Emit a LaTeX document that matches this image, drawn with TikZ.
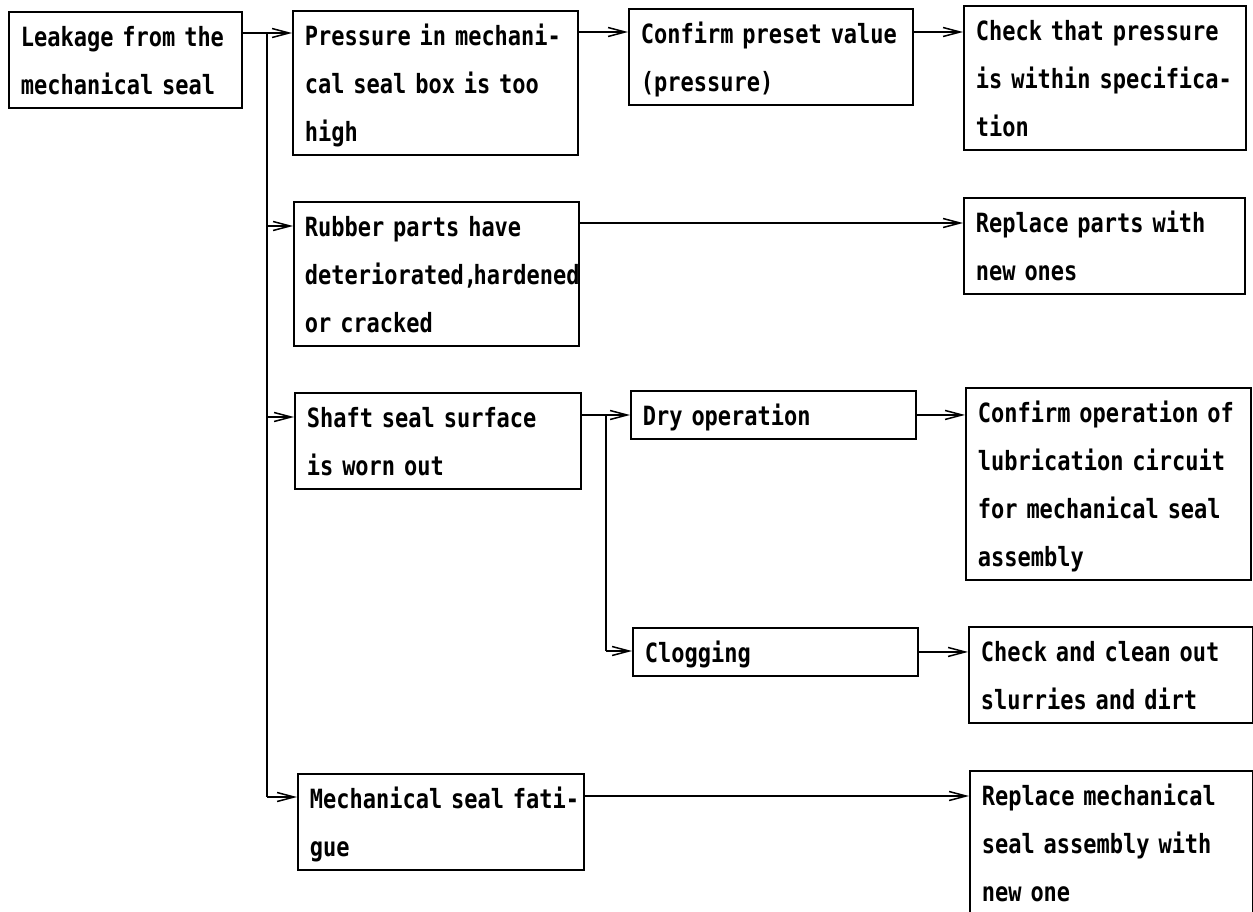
\documentclass[tikz,border=0pt]{standalone}
\usepackage{fontspec}
\usetikzlibrary{arrows.meta}
\newfontfamily\boxfont[FakeStretch=0.83]{DejaVu Sans Mono}
\newcommand\Lt[1]{\rule[-13pt]{0pt}{48pt}\mbox{#1}}
\tikzset{
  box/.style={draw, line width=1.9pt, rectangle, anchor=north west,
    inner xsep=12pt, inner ysep=0pt, align=left, text width=#1,
    font=\boxfont\bfseries\fontsize{26.5}{48}\selectfont},
  box/.default=261pt,
  arr/.style={line width=1.7pt, -{Straight Barb[length=17pt,width=9pt,line width=1.5pt]}},
  ln/.style={line width=1.7pt}
}
\begin{document}
\begin{tikzpicture}[x=1pt,y=-1pt]
\fill[white] (0,0) rectangle (1253,911);
\useasboundingbox (0,0) rectangle (1253,911);

\node[box=209pt] (leak) at (8,11) {\Lt{Leakage from the}\\\Lt{mechanical seal}};
\node[box] (press) at (292,10) {\Lt{Pressure in mechani-}\\\Lt{cal seal box is too}\\\Lt{high}};
\node[box=260pt] (conf) at (628,8) {\Lt{Confirm preset value}\\\Lt{(pressure)}};
\node[box=258pt] (check) at (963,5) {\Lt{Check that pressure}\\\Lt{is within specifica-}\\\Lt{tion}};
\node[box=263pt, inner xsep=11pt] (rub) at (293,201) {\Lt{Rubber parts have}\\\Lt{deteriorated,\kern-3.5pt hardened}\\\Lt{or cracked}};
\node[box=257pt] (repl) at (963,197) {\Lt{Replace parts with}\\\Lt{new ones}};
\node[box=262pt] (shaft) at (294,392) {\Lt{Shaft seal surface}\\\Lt{is worn out}};
\node[box] (dry) at (630,390) {\Lt{Dry operation}};
\node[box] (confop) at (965,387) {\Lt{Confirm operation of}\\\Lt{lubrication circuit}\\\Lt{for mechanical seal}\\\Lt{assembly}};
\node[box] (clog) at (632,627) {\Lt{Clogging}};
\node[box=260pt] (clean) at (968,626) {\Lt{Check and clean out}\\\Lt{slurries and dirt}};
\node[box=262pt] (fat) at (297,773) {\Lt{Mechanical seal fati-}\\\Lt{gue}};
\node[box=259pt] (replm) at (969,770) {\Lt{Replace mechanical}\\\Lt{seal assembly with}\\\Lt{new one}};

% row 1
\coordinate (a1) at ([yshift=-22pt]leak.north east);
\draw[arr] (a1) -- (a1 -| press.west);
\coordinate (a2) at ([yshift=-22pt]press.north east);
\draw[arr] (a2) -- (a2 -| conf.west);
\coordinate (a3) at ([yshift=-24pt]conf.north east);
\draw[arr] (a3) -- (a3 -| check.west);

% main trunk
\coordinate (t0) at (267,33);
\coordinate (t1) at (267,226);
\coordinate (t2) at (267,417);
\coordinate (t3) at (267,797);
\draw[ln] (t0) -- (t3);
\draw[arr] (t1) -- (t1 -| rub.west);
\draw[arr] (t2) -- (t2 -| shaft.west);
\draw[arr] (t3) -- (t3 -| fat.west);

% rubber
\coordinate (r1) at ([yshift=-22pt]rub.north east);
\draw[arr] (r1) -- (r1 -| repl.west);

% shaft
\coordinate (s1) at ([yshift=-23pt]shaft.north east);
\draw[arr] (s1) -- (s1 -| dry.west);
\coordinate (s0) at (606,415);
\coordinate (s2) at (606,651);
\draw[ln] (s0) -- (s2);
\draw[arr] (s2) -- (s2 -| clog.west);
\draw[arr] (dry.east) -- (dry.east -| confop.west);
\draw[arr] (clog.east) -- (clog.east -| clean.west);

% fatigue
\coordinate (f1) at ([yshift=-23pt]fat.north east);
\draw[arr] (f1) -- (f1 -| replm.west);
\end{tikzpicture}
\end{document}
